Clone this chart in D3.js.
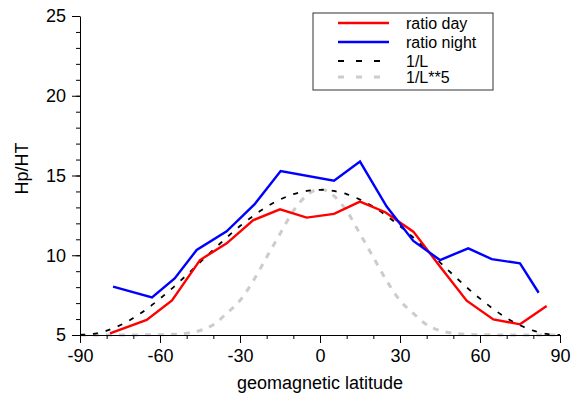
<!DOCTYPE html>
<meta charset="utf-8">
<style>
body { margin: 0; background: #fff; }
text { font-family: Arial, "Liberation Sans", sans-serif; }
</style>
<script src="https://d3js.org/d3.v7.min.js"></script>
<div id="chart"></div>
<script>
// measured ratios (latitude, value)
var dayLat   = [-78.75, -65, -55.5, -45, -35, -25, -15, -5, 5.25, 15, 24.5, 35, 45, 55, 65, 75, 85];
var dayVal   = [5.1, 5.95, 7.17, 9.7, 10.75, 12.2, 12.88, 12.36, 12.59, 13.36, 12.7, 11.48, 9.3, 7.15, 5.98, 5.67, 6.82];
var nightLat = [-77.6, -63, -54.5, -46.25, -35, -24.5, -14.75, 5.25, 15, 25, 35, 45, 55.6, 64.4, 75, 82];
var nightVal = [8.03, 7.36, 8.55, 10.33, 11.5, 13.2, 15.28, 14.67, 15.87, 13.05, 10.9, 9.7, 10.43, 9.76, 9.49, 7.65];

// reference curves, read every 5 degrees
var refLat = [-90, -85, -80, -75, -70, -65, -60, -55, -50, -45, -40, -35, -30, -25, -20, -15, -10, -5, 0,
              5, 10, 15, 20, 25, 30, 35, 40, 45, 50, 55, 60, 65, 70, 75, 80, 85, 90];
var invL   = [5, 5.07, 5.27, 5.61, 6.06, 6.63, 7.28, 7.99, 8.76, 9.55, 10.34, 11.11, 11.83, 12.47, 13.04, 13.49, 13.83, 14.03, 14.1,
              14.03, 13.83, 13.49, 13.04, 12.47, 11.83, 11.11, 10.34, 9.55, 8.76, 7.99, 7.28, 6.63, 6.06, 5.61, 5.27, 5.07, 5];
var invL5  = [5, 5, 5, 5, 5, 5.01, 5.01, 5.04, 5.11, 5.28, 5.64, 6.36, 7.16, 8.4, 9.88, 11.34, 12.78, 13.75, 14.15,
              13.75, 12.78, 11.34, 9.88, 8.4, 7.16, 6.36, 5.64, 5.28, 5.11, 5.04, 5.01, 5.01, 5, 5, 5, 5, 5];

var xTicks = [-90, -60, -30, 0, 30, 60, 90];
var yTicks = [5, 10, 15, 20, 25];
var legendNames = ["ratio day", "ratio night", "1/L", "1/L**5"];

var margin = {top: 16, right: 11, bottom: 61, left: 80},
    width = 571 - margin.left - margin.right,
    height = 396 - margin.top - margin.bottom;

var svg = d3.select("#chart")
  .append("svg")
    .attr("width", 571)
    .attr("height", 396)
  .append("g")
    .attr("transform", "translate(" + margin.left + "," + margin.top + ")");

var x = d3.scaleLinear().domain([-90, 90]).range([0, width]);
var y = d3.scaleLinear().domain([5, 25]).range([height, 0]);

function zip(a, b) { return a.map(function(d, i) { return [d, b[i]]; }); }

var plain = d3.line().x(function(d) { return x(d[0]); }).y(function(d) { return y(d[1]); });
var smooth = d3.line().curve(d3.curveMonotoneX).x(function(d) { return x(d[0]); }).y(function(d) { return y(d[1]); });

// reference curves
svg.append("path")
  .attr("d", smooth(zip(refLat, invL5)))
  .attr("fill", "none").attr("stroke", "#cccccc").attr("stroke-width", 3)
  .attr("stroke-dasharray", "6,7");
svg.append("path")
  .attr("d", smooth(zip(refLat, invL)))
  .attr("fill", "none").attr("stroke", "#000").attr("stroke-width", 1.8)
  .attr("stroke-dasharray", "5,8");

svg.append("path")
  .attr("d", plain(zip(dayLat, dayVal)))
  .attr("fill", "none").attr("stroke", "#ff0000").attr("stroke-width", 2.4);
svg.append("path")
  .attr("d", plain(zip(nightLat, nightVal)))
  .attr("fill", "none").attr("stroke", "#0000ff").attr("stroke-width", 2.4);

// plain hyphen for negatives, like the original
var fmt = function(d) { return String(d); };

// x axis: minor then major
svg.append("g")
  .attr("transform", "translate(0," + height + ")")
  .call(d3.axisBottom(x).tickValues(d3.range(-90, 91, 10)).tickSize(4).tickFormat(""))
  .call(function(g) { g.select(".domain").remove(); });
svg.append("g")
  .attr("transform", "translate(0," + height + ")")
  .call(d3.axisBottom(x).tickValues(xTicks).tickSize(8).tickSizeOuter(0).tickPadding(6).tickFormat(fmt))
  .call(function(g) { g.selectAll("text").attr("font-size", 18).attr("fill", "#000"); });

// y axis
svg.append("g")
  .call(d3.axisLeft(y).tickValues(d3.range(5, 26, 1)).tickSize(4).tickFormat(""))
  .call(function(g) { g.select(".domain").remove(); });
svg.append("g")
  .call(d3.axisLeft(y).tickValues(yTicks).tickSize(8).tickSizeOuter(0).tickPadding(6).tickFormat(fmt))
  .call(function(g) { g.selectAll("text").attr("font-size", 18).attr("fill", "#000"); });

svg.selectAll(".tick line").attr("stroke", "#000");

svg.append("text")
  .attr("x", width / 2).attr("y", height + 54)
  .attr("text-anchor", "middle").attr("font-size", 18)
  .text("geomagnetic latitude");
svg.append("text")
  .attr("transform", "rotate(-90)")
  .attr("x", -height / 2 + 7).attr("y", -margin.left + 28)
  .attr("text-anchor", "middle").attr("font-size", 18)
  .text("Hp/HT");

// legend
var lg = svg.append("g").attr("transform", "translate(" + (313 - margin.left) + "," + (13 - margin.top) + ")");
lg.append("rect").attr("width", 180).attr("height", 77)
  .attr("fill", "#fff").attr("stroke", "#333").attr("stroke-width", 1);
var styles = [
  {c: "#ff0000", w: 2.6, d: null},
  {c: "#0000ff", w: 2.6, d: null},
  {c: "#000", w: 2, d: "6,12"},
  {c: "#cccccc", w: 3, d: "6,12"}
];
var rowY = [10, 29, 48, 64];
legendNames.forEach(function(name, i) {
  lg.append("line")
    .attr("x1", 25).attr("x2", 76).attr("y1", rowY[i]).attr("y2", rowY[i])
    .attr("stroke", styles[i].c).attr("stroke-width", styles[i].w)
    .attr("stroke-dasharray", styles[i].d);
  lg.append("text")
    .attr("x", 93).attr("y", rowY[i] + 5.5)
    .attr("font-size", 16)
    .text(name);
});
</script>
